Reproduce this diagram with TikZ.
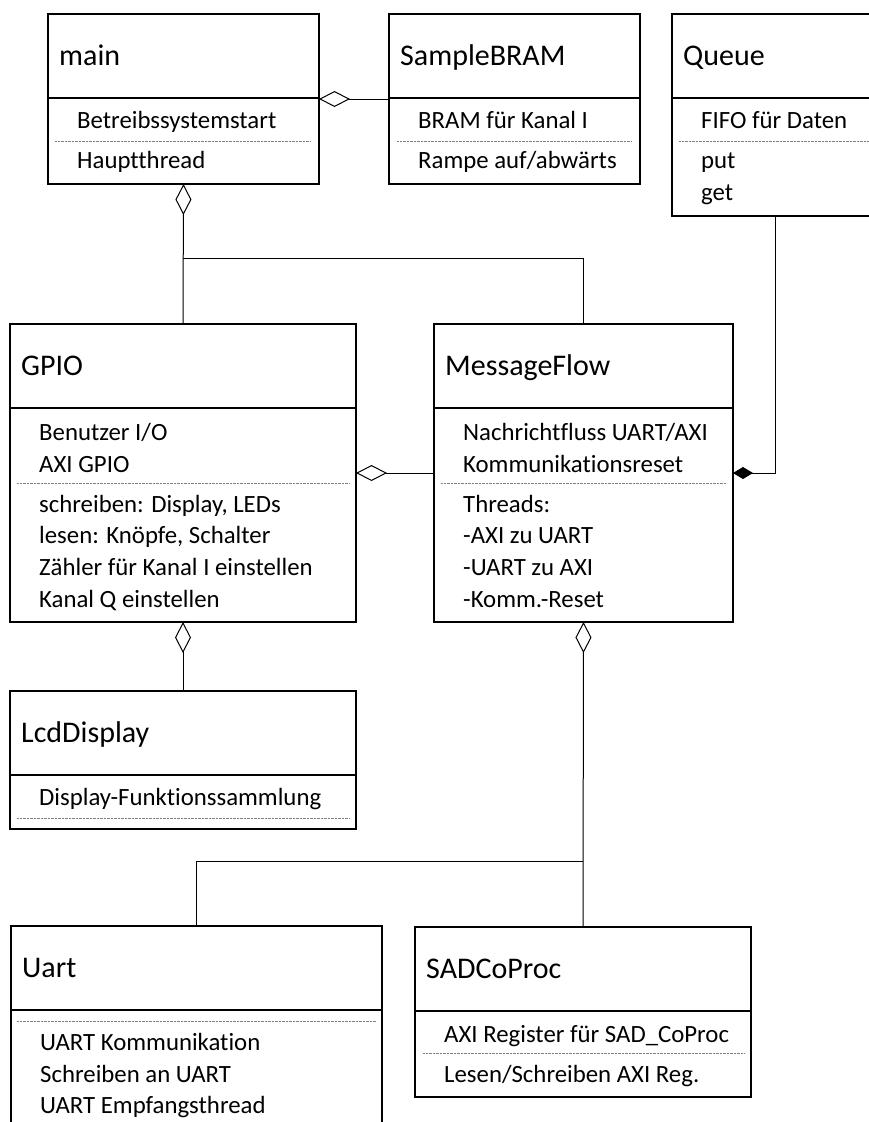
\documentclass[tikz,border=0pt]{standalone}
\usepackage{fontspec}
\setmainfont{Carlito}[Ligatures={NoCommon}]
\usetikzlibrary{arrows.meta}

% class box: name, x, y (top left), width, height, title
\newcommand\clsbox[6]{%
  \node[cls, minimum width=#4pt, minimum height=#5pt] (#1) at (#2,#3) {};
  \draw[cls line] ([yshift=-84pt]#1.north west) -- ([yshift=-84pt]#1.north east);
  \node[ctitle] (#1-title) at ([xshift=11pt,yshift=-51pt]#1.north west) {#6};
}

\begin{document}
\begin{tikzpicture}[x=1pt, y=-1pt,
  cls/.style={draw, line width=1.5pt, inner sep=0pt, outer sep=0pt, anchor=north west},
  cls line/.style={line width=1.5pt},
  ctitle/.style={anchor=base west, inner sep=0pt, font=\fontsize{30}{36}\selectfont},
  item/.style={anchor=base west, inner sep=0pt, font=\fontsize{24.8}{30}\selectfont},
  sepline/.style={line width=0.7pt, gray, dash pattern=on 0.8pt off 0.6pt},
  conn/.style={line width=1pt},
  agg/.style={conn, -{Diamond[open, length=31pt, width=16pt]}},
  comp/.style={conn, -{Diamond[length=20pt, width=12pt]}}]

\useasboundingbox[fill=white] (0,0) rectangle (869,1122);

% --- main ---
\clsbox{main}{48}{14}{271}{170}{main}
\node[item] (main-i1) at (77,128) {Betreibssystemstart};
\draw[sepline] (55,141) -- (311,141);
\node[item] (main-i2) at (77,168) {Hauptthread};

% --- SampleBRAM ---
\clsbox{sbram}{389}{14}{251}{170}{SampleBRAM}
\node[item] (sbram-i1) at (418,128) {BRAM für Kanal I};
\draw[sepline] (397,141) -- (632,141);
\node[item] (sbram-i2) at (418,168) {Rampe auf/abwärts};

% --- Queue ---
\clsbox{queue}{672}{14}{206}{202}{Queue}
\node[item] (queue-i1) at (701,128) {FIFO für Daten};
\draw[sepline] (679,141) -- (871,141);
\node[item] (queue-i2) at (701,168) {put};
\node[item] (queue-i3) at (701,200) {get};

% --- GPIO ---
\clsbox{gpio}{10}{324}{346}{298}{GPIO}
\node[item] (gpio-i1) at (39,440) {Benutzer I/O};
\node[item] (gpio-i2) at (39,472) {AXI GPIO};
\draw[sepline] (17,483) -- (349,483);
\node[item] (gpio-i3) at (39,512) {schreiben: Display, LEDs};
\node[item] (gpio-i4) at (39,543) {lesen: Knöpfe, Schalter};
\node[item] (gpio-i5) at (39,575) {Zähler für Kanal I einstellen};
\node[item] (gpio-i6) at (39,607) {Kanal Q einstellen};

% --- MessageFlow ---
\clsbox{mf}{434}{324}{299}{298}{MessageFlow}
\node[item] (mf-i1) at (463,440) {Nachrichtfluss UART/AXI};
\node[item] (mf-i2) at (463,472) {Kommunikationsreset};
\draw[sepline] (441,483) -- (726,483);
\node[item] (mf-i3) at (463,512) {Threads:};
\node[item] (mf-i4) at (463,543) {-AXI zu UART};
\node[item] (mf-i5) at (463,575) {-UART zu AXI};
\node[item] (mf-i6) at (463,607) {-Komm.-Reset};

% --- LcdDisplay ---
\clsbox{lcd}{10}{691}{346}{138}{LcdDisplay}
\node[item] (lcd-i1) at (39,805) {Display-Funktionssammlung};
\draw[sepline] (17,818) -- (349,818);

% --- Uart ---
\clsbox{uart}{11}{926}{371}{210}{Uart}
\draw[sepline] (17,1021) -- (376,1021);
\node[item] (uart-i1) at (40,1050) {UART Kommunikation};
\node[item] (uart-i2) at (40,1082) {Schreiben an UART};
\node[item] (uart-i3) at (40,1113) {UART Empfangsthread};

% --- SADCoProc ---
\clsbox{sad}{415}{927}{336}{170}{SADCoProc}
\node[item] (sad-i1) at (444,1042) {AXI Register für SAD\_CoProc};
\draw[sepline] (423,1053) -- (744,1053);
\node[item] (sad-i2) at (444,1082) {Lesen/Schreiben AXI Reg.};

% --- connectors ---
\coordinate (j1) at (183,258);
\coordinate (j2) at (583,861);
\draw[agg] (sbram.west) -- (main.east);
\draw[agg] (gpio.north) -- (main.south);
\draw[conn] (mf.north) |- (j1);
\draw[agg] (mf.west) -- (gpio.east);
\draw[comp] (queue.south) |- (mf.east);
\draw[agg] (lcd.north) -- (gpio.south);
\draw[agg] (sad.north) -- (mf.south);
\draw[conn] (uart.north) |- (j2);
\end{tikzpicture}
\end{document}
